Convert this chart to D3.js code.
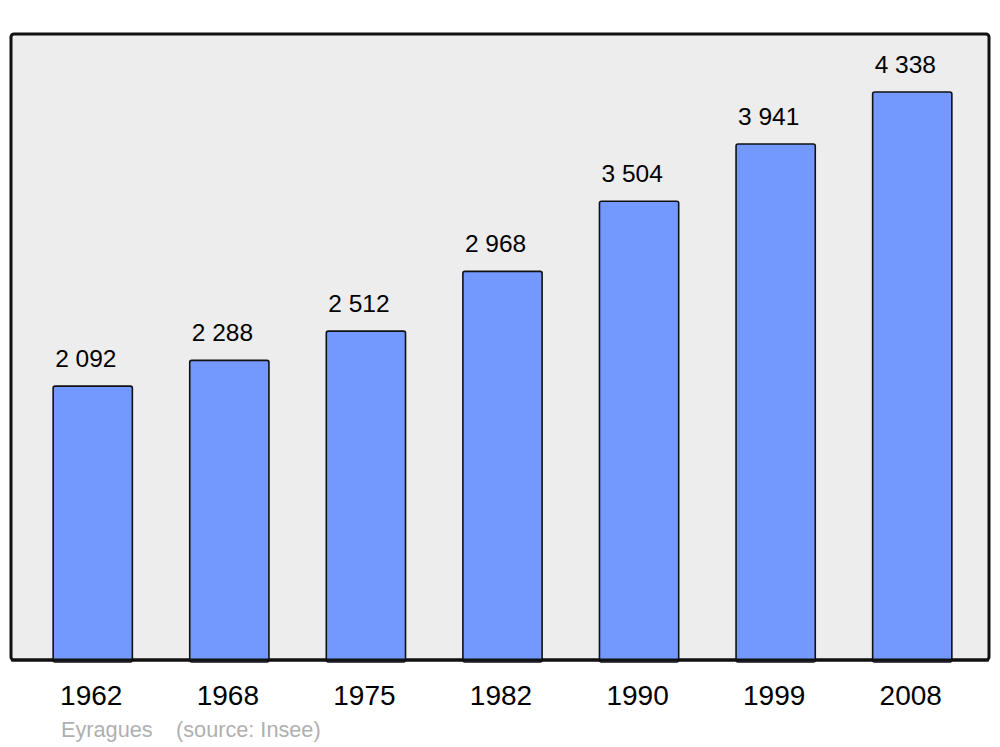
<!DOCTYPE html>
<html><head><meta charset="utf-8">
<script src="https://cdn.jsdelivr.net/npm/d3@7"></script>
<style>body{margin:0;background:#fff}svg{display:block}text{font-family:"Liberation Sans",Arial,sans-serif}</style>
</head><body>
<svg id="c" width="1000" height="747"></svg>
<script>
const years = ["1962","1968","1975","1982","1990","1999","2008"];
const population = [2092,2288,2512,2968,3504,3941,4338];
const labels = ["2 092","2 288","2 512","2 968","3 504","3 941","4 338"];
const commune = "Eyragues";
const source = "(source: Insee)";

const svg = d3.select("#c");
svg.append("rect").attr("x",11).attr("y",34).attr("width",978).attr("height",626)
  .attr("rx",3).attr("fill","#ededed").attr("stroke","#111").attr("stroke-width",3);

const x = d3.scaleBand().domain(years).range([19,986]).paddingInner(0.42).paddingOuter(0.25);
const y = d3.scaleLinear().domain([0,4338]).range([660,92]);

const g = svg.append("g");
g.selectAll("rect.bar").data(years).join("rect").attr("class","bar")
  .attr("x",d=>x(d)).attr("width",x.bandwidth())
  .attr("y",(d,i)=>y(population[i])).attr("height",(d,i)=>y(0)-y(population[i])+2)
  .attr("rx",2).attr("fill","#7399ff").attr("stroke","#111").attr("stroke-width",1.6);

svg.append("line").attr("x1",11).attr("x2",989).attr("y1",660).attr("y2",660).attr("stroke","#111").attr("stroke-width",3);

g.selectAll("text.val").data(years).join("text").attr("class","val")
  .attr("x",d=>x(d)+2).attr("y",(d,i)=>y(population[i])-19)
  .attr("text-anchor","start").attr("font-size",24.5).attr("fill","#000")
  .text((d,i)=>labels[i]);

const xAxis = d3.axisBottom(x).tickSize(0).tickPadding(0);
const ax = svg.append("g").attr("transform","translate(-1.5,660)").call(xAxis);
ax.select(".domain").remove();
ax.selectAll("text").attr("font-size",28).attr("fill","#000").attr("dy",null).attr("y",44.5)
  .style("font-family",'"Liberation Sans",Arial,sans-serif');

svg.append("text").attr("x",61).attr("y",737).attr("font-size",21.7).attr("fill","#b0b0b0").text(commune);
svg.append("text").attr("x",176).attr("y",737).attr("font-size",21.7).attr("fill","#b0b0b0").text(source);
</script>
</body></html>
